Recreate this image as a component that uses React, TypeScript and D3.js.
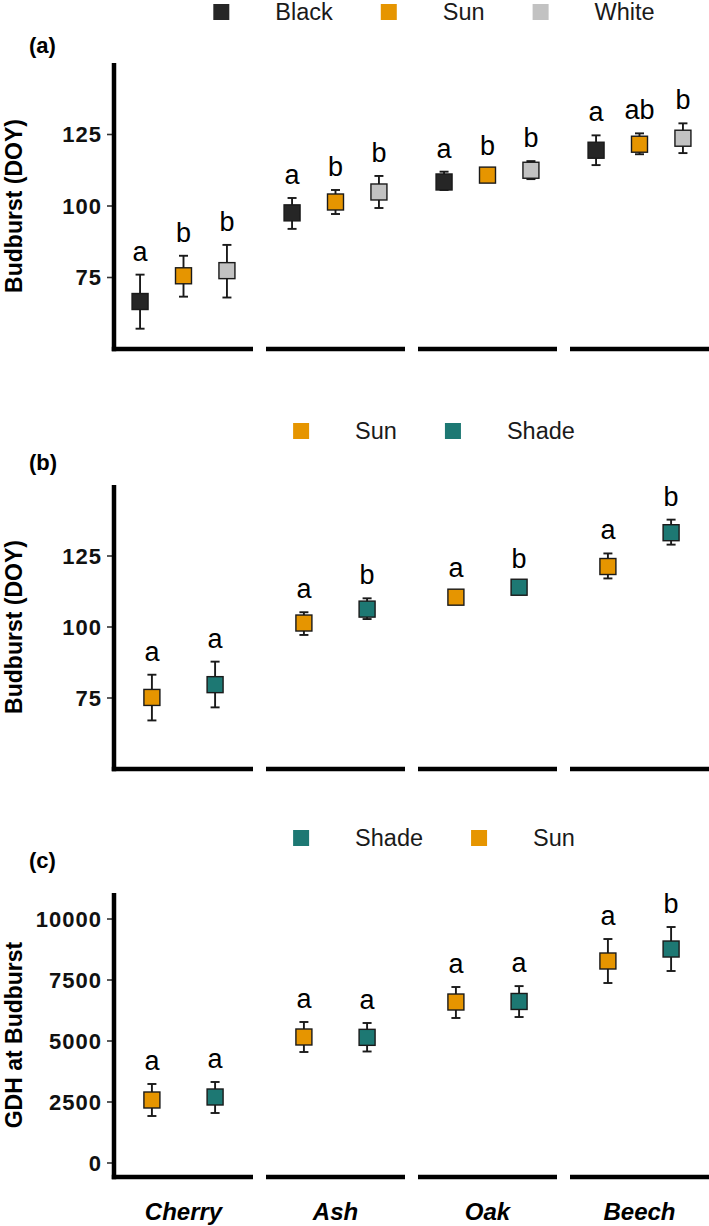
import React, { useEffect, useRef } from 'react'
import * as d3 from 'd3'

const SPECIES = ['Cherry', 'Ash', 'Oak', 'Beech']

// (a) colour treatments
const aTreat = ['Black', 'Sun', 'White']
const aMean = [[66.6, 75.6, 77.4], [97.6, 101.4, 104.9], [108.4, 110.8, 112.5], [119.5, 121.6, 123.7]]
const aLow = [[57.1, 68.3, 68.0], [92.0, 97.2, 99.3], [105.6, 109.3, 109.4], [114.3, 118.1, 118.5]]
const aHigh = [[76.0, 82.6, 86.4], [102.8, 105.6, 110.5], [112.0, 112.9, 115.7], [124.7, 125.4, 128.9]]
const aLetters = [['a', 'b', 'b'], ['a', 'b', 'b'], ['a', 'b', 'b'], ['a', 'ab', 'b']]
const aTicks = [75, 100, 125]

// (b) sun vs shade, budburst
const bTreat = ['Sun', 'Shade']
const bMean = [[75.2, 79.7], [101.4, 106.3], [110.5, 114.0], [121.3, 133.2]]
const bLow = [[67.1, 71.7], [97.2, 102.8], [109.3, 112.6], [117.1, 129.0]]
const bHigh = [[83.2, 87.8], [105.2, 110.1], [112.6, 115.8], [125.9, 137.8]]
const bLetters = [['a', 'a'], ['a', 'b'], ['a', 'b'], ['a', 'b']]
const bTicks = [75, 100, 125]

// (c) GDH at budburst
const cTreat = ['Sun', 'Shade']
const cLegend = ['Shade', 'Sun']
const cMean = [[2582, 2705], [5164, 5150], [6598, 6620], [8279, 8770]]
const cLow = [[1926, 2049], [4549, 4570], [5943, 5983], [7377, 7869]]
const cHigh = [[3238, 3320], [5779, 5738], [7213, 7250], [9180, 9672]]
const cLetters = [['a', 'a'], ['a', 'a'], ['a', 'a'], ['a', 'b']]
const cTicks = [0, 2500, 5000, 7500, 10000]

const COLORS: Record<string, string> = {
  Black: '#262626', Sun: '#E69500', White: '#C2C2C2', Shade: '#1D7873'
}
const FONT = '"Liberation Sans", Arial, Helvetica, sans-serif'
const W = 709, H = 1226

const panels = [
  { tag: '(a)', title: 'Budburst (DOY)', treat: aTreat, legend: aTreat, mean: aMean, low: aLow, high: aHigh, letters: aLetters, ticks: aTicks, domain: [50, 150], top: 63, bottom: 349, legendY: 12, tagY: 45 },
  { tag: '(b)', title: 'Budburst (DOY)', treat: bTreat, legend: bTreat, mean: bMean, low: bLow, high: bHigh, letters: bLetters, ticks: bTicks, domain: [50, 150], top: 485, bottom: 769, legendY: 431, tagY: 462 },
  { tag: '(c)', title: 'GDH at Budburst', treat: cTreat, legend: cLegend, mean: cMean, low: cLow, high: cHigh, letters: cLetters, ticks: cTicks, domain: [-574, 11066], top: 893, bottom: 1177, legendY: 838, tagY: 860 },
]

export default function App() {
  const svgRef = useRef<SVGSVGElement>(null)

  useEffect(() => {
    document.body.style.margin = '0'
    const svg = d3.select(svgRef.current)
    svg.selectAll('*').remove()
    svg.append('rect').attr('width', W).attr('height', H).attr('fill', '#fff')

    const left = 114
    const fx = d3.scaleBand().domain(SPECIES).range([left, W]).paddingInner(13 / 152).paddingOuter(0)
    const bw = fx.bandwidth()

    panels.forEach(p => {
      const g = svg.append('g').attr('font-family', FONT)
      const y = d3.scaleLinear().domain(p.domain).range([p.bottom, p.top])
      const inner = d3.scalePoint().domain(p.treat).range([0, bw]).padding(0.6)

      // legend, centred
      const lg = g.append('g')
      let cx = 0
      p.legend.forEach(name => {
        lg.append('rect').attr('x', cx).attr('y', p.legendY - 8).attr('width', 16).attr('height', 16).attr('fill', COLORS[name])
        const t = lg.append('text').attr('x', cx + 62).attr('y', p.legendY).attr('dy', '0.35em')
          .attr('font-size', 23.5).attr('fill', '#1a1a1a').text(name)
        const w = (t.node() as SVGTextElement).getComputedTextLength()
        cx += 62 + w + 48
      })
      const total = cx - 48
      lg.attr('transform', `translate(${434 - total / 2},0)`)

      // tag
      g.append('text').attr('x', 29).attr('y', p.tagY).attr('dy', '0.35em')
        .attr('font-size', 22).attr('font-weight', 'bold').text(p.tag)

      // y title
      const my = (p.top + p.bottom) / 2
      g.append('text').attr('transform', `translate(14,${my}) rotate(-90)`)
        .attr('text-anchor', 'middle').attr('dy', '0.35em')
        .attr('font-size', 23).attr('font-weight', 'bold').text(p.title)

      // ticks
      p.ticks.forEach(t => {
        g.append('line').attr('x1', 107).attr('x2', 112).attr('y1', y(t)).attr('y2', y(t))
          .attr('stroke', '#333').attr('stroke-width', 1.6)
        g.append('text').attr('x', 102).attr('y', y(t)).attr('dy', '0.35em')
          .attr('text-anchor', 'end').attr('font-size', 22).attr('font-weight', 'bold')
          .attr('letter-spacing', 1).attr('fill', '#111').text(t)
      })

      // axes
      g.append('line').attr('x1', left).attr('x2', left).attr('y1', p.top).attr('y2', p.bottom + 2.25)
        .attr('stroke', '#000').attr('stroke-width', 4.5)
      SPECIES.forEach((s, i) => {
        g.append('line').attr('x1', i === 0 ? left - 2.25 : fx(s)!).attr('x2', fx(s)! + bw)
          .attr('y1', p.bottom).attr('y2', p.bottom).attr('stroke', '#000').attr('stroke-width', 4.5)
      })

      // points
      SPECIES.forEach((s, i) => {
        p.treat.forEach((tr, j) => {
          const x = fx(s)! + inner(tr)!
          const lo = y(p.low[i][j]), hi = y(p.high[i][j]), m = y(p.mean[i][j])
          const eg = g.append('g').attr('stroke', '#1a1a1a').attr('stroke-width', 1.9)
          eg.append('line').attr('x1', x).attr('x2', x).attr('y1', lo).attr('y2', hi)
          eg.append('line').attr('x1', x - 4.5).attr('x2', x + 4.5).attr('y1', lo).attr('y2', lo)
          eg.append('line').attr('x1', x - 4.5).attr('x2', x + 4.5).attr('y1', hi).attr('y2', hi)
          g.append('rect').attr('x', x - 8).attr('y', m - 8).attr('width', 16).attr('height', 16)
            .attr('fill', COLORS[tr]).attr('stroke', '#1a1a1a').attr('stroke-width', 1.4)
          g.append('text').attr('x', x).attr('y', hi - 14).attr('text-anchor', 'middle')
            .attr('font-size', 27).attr('fill', '#000').text(p.letters[i][j])
        })
      })
    })

    // species labels under last panel
    SPECIES.forEach(s => {
      svg.append('text').attr('x', fx(s)! + bw / 2).attr('y', 1220)
        .attr('text-anchor', 'middle').attr('font-family', FONT)
        .attr('font-size', 24).attr('font-weight', 'bold').attr('font-style', 'italic').text(s)
    })
  }, [])

  return <svg ref={svgRef} width={W} height={H} style={{ display: 'block' }} />
}
